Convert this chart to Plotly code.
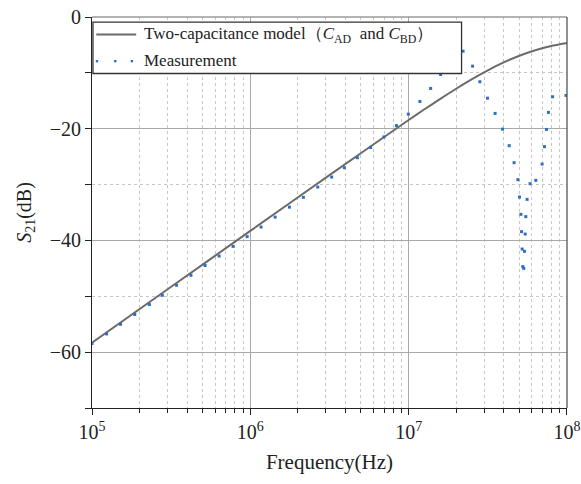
import plotly.graph_objects as go

# Two-capacitance model (C_AD and C_BD): frequency (Hz) and S21 (dB)
model_freq = [1.0e5, 3.162e5, 1.0e6, 3.162e6, 1.0e7, 1.259e7, 1.585e7, 1.995e7,
              2.512e7, 3.162e7, 3.981e7, 5.012e7, 6.310e7, 7.943e7, 1.0e8]
model_s21 = [-58.3, -48.3, -38.3, -28.31, -18.44, -16.52, -14.65, -12.84,
             -11.12, -9.54, -8.13, -6.93, -5.95, -5.20, -4.65]

# Measured S21 (dB) versus frequency (Hz)
meas_freq = [1.000e5, 1.236e5, 1.514e5, 1.862e5, 2.301e5, 2.780e5, 3.420e5, 4.217e5,
             5.176e5, 6.353e5, 7.780e5, 9.550e5, 1.169e6, 1.435e6, 1.766e6, 2.163e6,
             2.667e6, 3.266e6, 3.926e6, 4.742e6, 5.754e6, 6.982e6, 8.375e6, 9.954e6,
             1.178e7, 1.377e7, 1.592e7, 1.862e7, 2.208e7, 2.535e7, 2.818e7, 3.148e7,
             3.516e7, 3.917e7, 4.315e7, 4.634e7, 4.898e7, 5.012e7, 5.117e7, 5.164e7,
             5.212e7, 5.260e7, 5.333e7, 5.395e7, 5.445e7, 5.495e7, 5.598e7, 5.848e7,
             6.353e7, 6.966e7, 7.211e7, 7.430e7, 7.638e7, 8.110e7, 9.863e7]
meas_s21 = [-58.46, -56.74, -55.01, -53.26, -51.48, -49.82, -48.03, -46.24,
            -44.49, -42.79, -41.06, -39.32, -37.60, -35.83, -34.04, -32.29,
            -30.45, -28.66, -26.98, -25.19, -23.35, -21.47, -19.45, -17.39,
            -15.12, -12.79, -10.29, -8.0, -6.12, -8.80, -11.59, -14.53,
            -17.26, -20.07, -23.04, -26.08, -29.12, -32.24, -35.33, -38.43,
            -41.54, -44.69, -45.0, -41.95, -38.86, -35.74, -32.65, -29.84,
            -29.25, -26.33, -23.22, -20.13, -17.08, -14.28, -14.04]

x_ticks = [1e5, 1e6, 1e7, 1e8]
x_tick_text = ["10<sup>5</sup>", "10<sup>6</sup>", "10<sup>7</sup>", "10<sup>8</sup>"]
y_ticks = [0, -20, -40, -60]

FONT = "Liberation Serif, Times New Roman, serif"
LINE_COLOR = "#6b6b6b"
DOT_COLOR = "#2f6fc0"

fig = go.Figure()
fig.add_trace(go.Scatter(
    x=model_freq, y=model_s21, mode="lines",
    line=dict(color=LINE_COLOR, width=2, shape="spline", smoothing=0.6),
    showlegend=False, hoverinfo="skip"))
fig.add_trace(go.Scatter(
    x=meas_freq, y=meas_s21, mode="markers",
    marker=dict(symbol="square", size=3, color=DOT_COLOR, line=dict(width=0)),
    showlegend=False))

fig.update_layout(
    width=581, height=484,
    margin=dict(l=92, r=14, t=17, b=76),
    paper_bgcolor="white", plot_bgcolor="white",
    font=dict(family=FONT, size=20, color="#222"),
    xaxis=dict(
        type="log", range=[5, 8.0002], automargin=False,
        tickmode="array", tickvals=x_ticks, ticktext=x_tick_text,
        showline=True, linecolor="#222", linewidth=1,
        ticks="outside", ticklen=6, tickcolor="#222",
        showgrid=True, gridcolor="#a8a8a8", gridwidth=1.3,
        zeroline=False,
        minor=dict(dtick="D1", ticks="outside", ticklen=4, tickcolor="#222",
                   showgrid=True, gridcolor="#c6c6c6", griddash="dot", gridwidth=1),
        title=dict(text="Frequency(Hz)", font=dict(size=21), standoff=12),
        tickfont=dict(size=20),
    ),
    yaxis=dict(
        range=[-70, 0], tickvals=y_ticks, automargin=False,
        showline=True, linecolor="#222", linewidth=1,
        ticks="outside", ticklen=6, tickcolor="#222",
        showgrid=True, gridcolor="#a8a8a8", gridwidth=1.3,
        zeroline=False,
        minor=dict(dtick=10, ticks="outside", ticklen=6, tickcolor="#222",
                   showgrid=True, gridcolor="#c6c6c6", griddash="dot", gridwidth=1),
        title=dict(text="<i>S</i><sub>21</sub>(dB)", font=dict(size=20), standoff=12),
        tickfont=dict(size=20),
    ),
)

# frame: top and right borders
fig.add_shape(type="line", xref="paper", yref="paper", x0=0, x1=1, y0=1, y1=1,
              line=dict(color="#9a9a9a", width=1.3), layer="above")
fig.add_shape(type="line", xref="paper", yref="paper", x0=1, x1=1, y0=0, y1=1,
              line=dict(color="#555555", width=1.3), layer="above")

# legend box
fig.add_shape(type="rect", xref="paper", yref="paper",
              x0=0.002, x1=0.778, y0=0.8555, y1=0.9867,
              line=dict(color="#333333", width=1.3), fillcolor="white", layer="above")
fig.add_shape(type="line", xref="paper", yref="paper",
              x0=0.009, x1=0.093, y0=0.9552, y1=0.9552,
              line=dict(color=LINE_COLOR, width=2), layer="above")
for xc in (0.0105, 0.049, 0.084):
    fig.add_shape(type="rect", xref="paper", yref="paper",
                  x0=xc - 0.0025, x1=xc + 0.0025, y0=0.887 - 0.003, y1=0.887 + 0.003,
                  line=dict(width=0), fillcolor=DOT_COLOR, layer="above")
fig.add_annotation(xref="paper", yref="paper", x=0.105, y=0.9552,
                   xanchor="left", yanchor="middle", showarrow=False,
                   text="Two-capacitance model（<i>C</i><sub>AD</sub>  and <i>C</i><sub>BD</sub>）",
                   font=dict(family=FONT, size=17, color="#222"))
fig.add_annotation(xref="paper", yref="paper", x=0.105, y=0.889,
                   xanchor="left", yanchor="middle", showarrow=False,
                   text="Measurement",
                   font=dict(family=FONT, size=17, color="#222"))

fig.write_html("out.html")
